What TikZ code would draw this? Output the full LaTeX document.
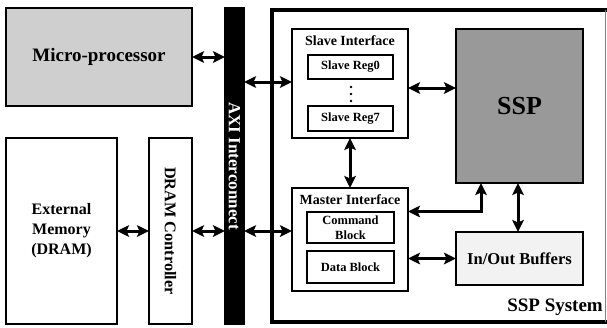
\documentclass[tikz,border=0pt]{standalone}
\usepackage{fontspec}
\setmainfont{Liberation Serif}
\usetikzlibrary{arrows.meta,calc}
\definecolor{mpgray}{HTML}{CFCFCF}
\definecolor{sspgray}{HTML}{999999}
\definecolor{bufgray}{HTML}{F2F2F2}
\tikzset{
  blk/.style={draw=black, line width=1.5pt, inner sep=0pt, outer sep=0pt, align=center, font=\bfseries},
  reg/.style={draw=black, line width=1.6pt, inner sep=0pt, outer sep=0pt, align=center, font=\fontsize{12.5}{14}\selectfont\bfseries},
  arr/.style={line width=3pt, {Stealth[length=12pt,width=11.5pt,inset=2.5pt]}-{Stealth[length=12pt,width=11.5pt,inset=2.5pt]}},
}
\begin{document}
\begin{tikzpicture}[x=1pt,y=-1pt]
\useasboundingbox (0,0) rectangle (607,327);
% SSP system frame
\draw[line width=4pt, line cap=rect] (605,10) -- (272,10) -- (272,322) -- (605,322);
\draw[line width=1pt, draw=gray] (605,10) -- (605,322);
\node[font=\fontsize{19}{21}\selectfont\bfseries, anchor=base east, inner sep=0pt] (sys) at (603,311) {SSP System};

% left side
\node[blk, fill=mpgray, minimum width=186pt, minimum height=98pt, font=\fontsize{19}{21}\selectfont\bfseries] (mp) at (99,57) {Micro-processor};
\node[blk, fill=black, minimum width=19pt, minimum height=316pt] (axi) at (234.5,166) {};
\node[rotate=-90, text=white, font=\fontsize{17}{19}\selectfont\bfseries, inner sep=0pt] (axit) at (234.5,166) {AXI Interconnect};
\node[blk, minimum width=111pt, minimum height=186pt, font=\fontsize{16}{20}\selectfont\bfseries] (ext) at (61.5,231) {External\\Memory\\(DRAM)};
\node[blk, minimum width=43pt, minimum height=186pt] (dram) at (170.5,231) {};
\node[rotate=-90, font=\fontsize{16.3}{18}\selectfont\bfseries, inner sep=0pt] (dramt) at (170.5,231) {DRAM Controller};

% slave interface
\node[blk, minimum width=116pt, minimum height=109pt] (slave) at (350,83.5) {};
\node[font=\fontsize{14}{16}\selectfont\bfseries, inner sep=0pt, anchor=base] (slavet) at (350,45) {Slave Interface};
\node[reg, minimum width=85pt, minimum height=24pt] (r0) at (350.5,67) {Slave Reg0};
\foreach \yy in {87,94,101} \fill (351,\yy) circle (1.4pt);
\node[reg, minimum width=85pt, minimum height=25pt] (r7) at (350.5,118.5) {Slave Reg7};

% master interface
\node[blk, minimum width=116pt, minimum height=103pt] (master) at (350,239.5) {};
\node[font=\fontsize{14}{16}\selectfont\bfseries, inner sep=0pt, anchor=base] (mastert) at (350,204) {Master Interface};
\node[reg, minimum width=87pt, minimum height=31pt, font=\fontsize{12.5}{14.5}\selectfont\bfseries] (cmd) at (350.5,227.5) {Command\\Block};
\node[reg, minimum width=87pt, minimum height=32pt] (data) at (350.5,267) {Data Block};

% SSP and buffers
\node[blk, fill=sspgray, minimum width=127pt, minimum height=154pt, font=\fontsize{26}{28}\selectfont\bfseries] (ssp) at (519.5,106) {SSP};
\node[blk, fill=bufgray, minimum width=127pt, minimum height=53pt, font=\fontsize{16.6}{18}\selectfont\bfseries] (buf) at (519.5,258.5) {In/Out Buffers};

% connectors
\draw[arr] (mp.east) -- (mp.east -| axi.west);
\draw[arr] ([yshift=1.5pt]slave.west -| axi.east) -- ([yshift=1.5pt]slave.west);
\draw[arr] ([yshift=-4.5pt]slave.east) -- ([yshift=-4.5pt]slave.east -| ssp.west);
\draw[arr] (slave.south) -- (master.north);
\draw[arr] ([xshift=-38.5pt]ssp.south) |- ([yshift=28pt]master.east);
\draw[arr] ([xshift=-1.5pt]ssp.south) -- ([xshift=-1.5pt]buf.north);
\draw[arr] (buf.west -| master.east) -- (buf.west);
\draw[arr] (ext.east) -- (ext.east -| dram.west);
\draw[arr] (ext.east -| dram.east) -- (ext.east -| axi.west);
\draw[arr] (ext.east -| axi.east) -- (ext.east -| master.west);
\end{tikzpicture}
\end{document}
